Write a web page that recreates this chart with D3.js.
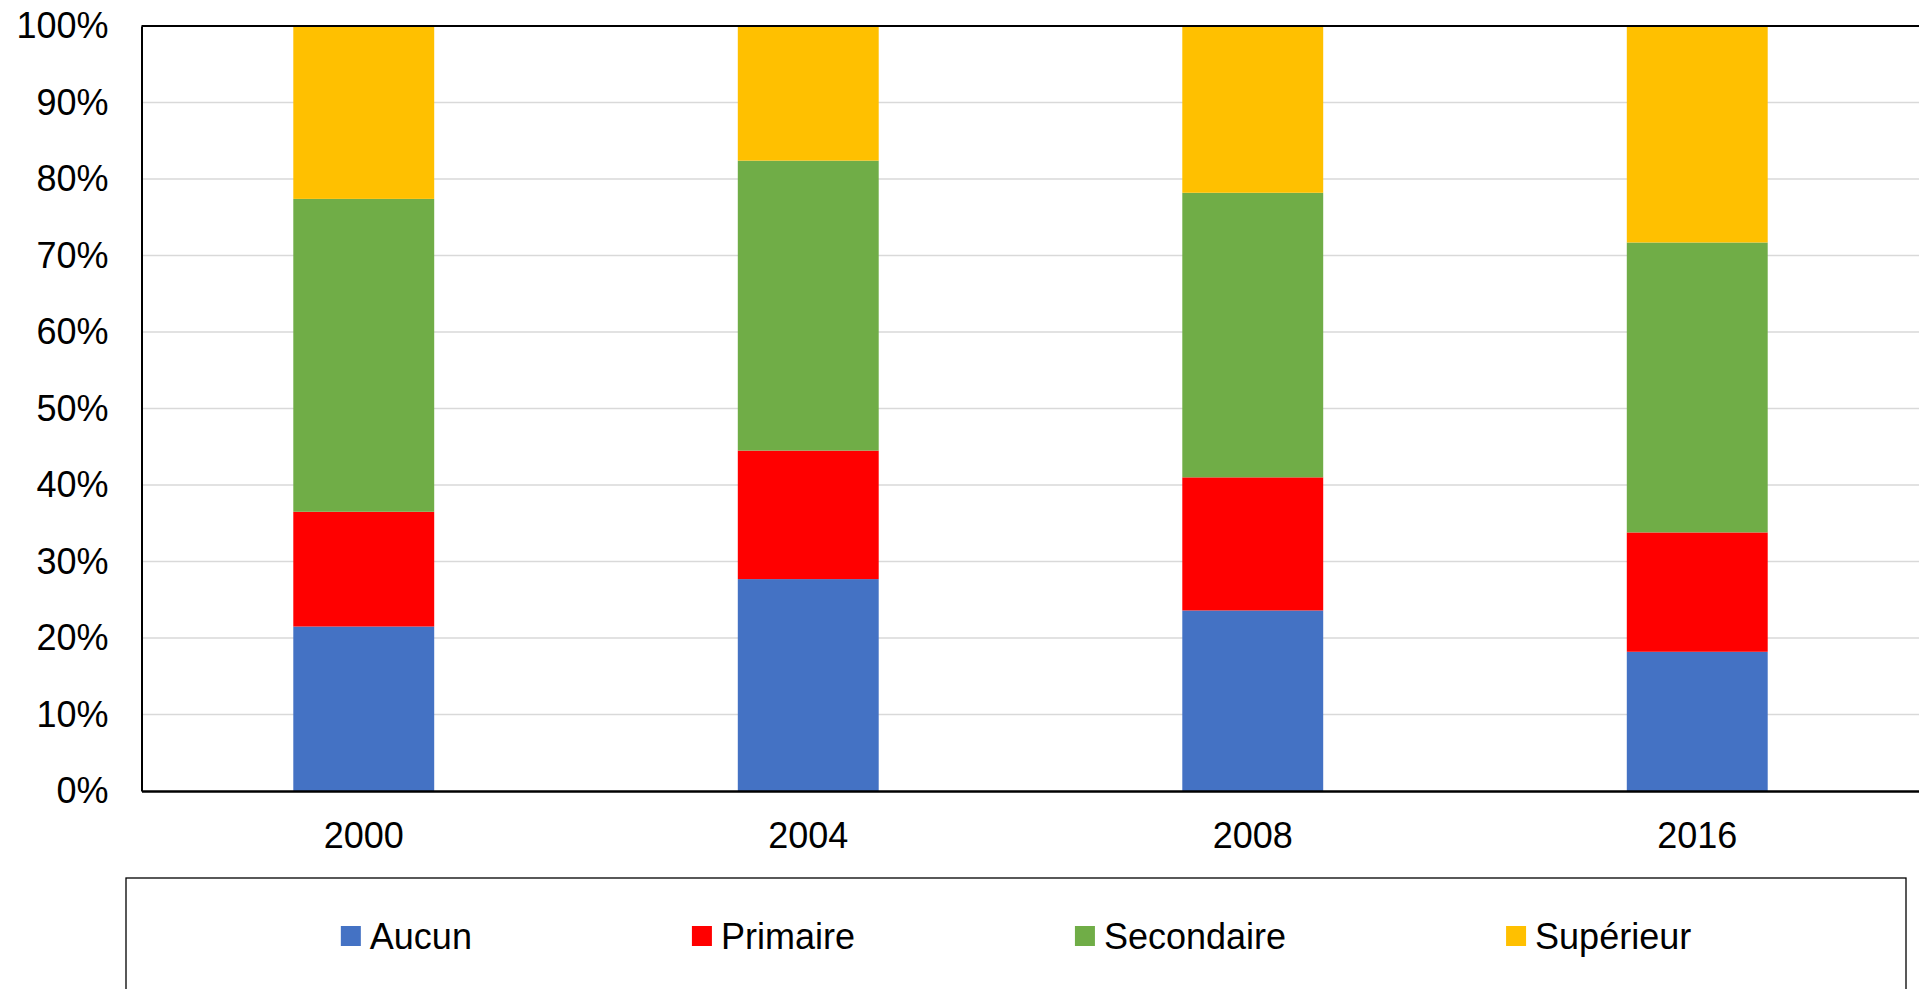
<!DOCTYPE html>
<html>
<head>
<meta charset="utf-8">
<script src="https://cdn.jsdelivr.net/npm/d3@7"></script>
<style>
  html, body { margin: 0; padding: 0; background: #fff; overflow: hidden; }
  svg { display: block; font-family: "Liberation Sans", Arial, sans-serif; }
</style>
</head>
<body>
<svg id="chart" width="1919" height="989"></svg>
<script>
const years = ["2000", "2004", "2008", "2016"];
const seriesNames = ["Aucun", "Primaire", "Secondaire", "Supérieur"];
const aucun      = [21.5, 27.7, 23.6, 18.2];
const primaire   = [15.0, 16.8, 17.4, 15.6];
const secondaire = [40.9, 37.9, 37.2, 37.9];
const superieur  = [22.6, 17.6, 21.8, 28.3];
const colors = ["#4472C4", "#FF0000", "#70AD47", "#FFC000"];
const yTicks = [0, 0.1, 0.2, 0.3, 0.4, 0.5, 0.6, 0.7, 0.8, 0.9, 1.0];

const seriesValues = [aucun, primaire, secondaire, superieur];
const rows = years.map((y, i) => {
  const r = { year: y };
  seriesNames.forEach((s, k) => r[s] = seriesValues[k][i]);
  return r;
});
// normalize to 100%
rows.forEach(r => {
  const tot = d3.sum(seriesNames, s => r[s]);
  seriesNames.forEach(s => r[s] = r[s] / tot);
});

const svg = d3.select("#chart");
const m = { left: 141.5, right: 1919.5, top: 26, bottom: 791 };

const x = d3.scaleBand().domain(years).range([m.left, m.right])
  .paddingInner(0.683).paddingOuter(0.3415);
const y = d3.scaleLinear().domain([0, 1]).range([m.bottom, m.top]);
const color = d3.scaleOrdinal().domain(seriesNames).range(colors);

// gridlines
svg.append("g").selectAll("line").data(yTicks.filter(t => t > 0 && t < 1)).join("line")
  .attr("x1", m.left).attr("x2", m.right)
  .attr("y1", d => y(d)).attr("y2", d => y(d))
  .attr("stroke", "#d9d9d9").attr("stroke-width", 1.3);

// stacked bars
const stacked = d3.stack().keys(seriesNames)(rows);
svg.append("g").selectAll("g").data(stacked).join("g")
  .attr("fill", d => color(d.key))
  .selectAll("rect").data(d => d).join("rect")
  .attr("x", d => x(d.data.year))
  .attr("width", x.bandwidth())
  .attr("y", d => y(d[1]))
  .attr("height", d => y(d[0]) - y(d[1]));

// top border line
svg.append("line")
  .attr("x1", m.left).attr("x2", m.right)
  .attr("y1", y(1)).attr("y2", y(1))
  .attr("stroke", "#000").attr("stroke-width", 2);

// y axis
const yAxis = svg.append("g").attr("transform", `translate(${m.left},0)`)
  .call(d3.axisLeft(y).tickValues(yTicks).tickFormat(d3.format(".0%")).tickSize(0).tickPadding(33));
yAxis.select(".domain").attr("stroke", "#000").attr("stroke-width", 2);
yAxis.selectAll("text").attr("font-size", 36).attr("fill", "#000")
  .attr("font-family", "Liberation Sans, Arial, sans-serif");

// x axis
const xAxis = svg.append("g").attr("transform", `translate(0,${m.bottom})`)
  .call(d3.axisBottom(x).tickSize(0).tickPadding(31));
xAxis.select(".domain").attr("stroke", "#000").attr("stroke-width", 2.5);
xAxis.selectAll("text").attr("font-size", 36).attr("fill", "#000")
  .attr("font-family", "Liberation Sans, Arial, sans-serif");

// legend box
const lgTop = 878, lgLeft = 126, lgRight = 1906, lgBottom = 992;
svg.append("rect")
  .attr("x", lgLeft).attr("y", lgTop)
  .attr("width", lgRight - lgLeft).attr("height", lgBottom - lgTop)
  .attr("fill", "none").attr("stroke", "#000").attr("stroke-width", 1.3);

const lg = svg.append("g");
const items = lg.selectAll("g").data(seriesNames).join("g");
items.append("rect").attr("width", 20).attr("height", 20).attr("y", -10)
  .attr("fill", d => color(d));
items.append("text").attr("x", 29).attr("dy", "0.35em")
  .attr("font-size", 36).attr("fill", "#000").text(d => d);
// layout
let cursor = 0;
const gap = 220;
const offsets = [];
items.each(function () {
  const w = 29 + d3.select(this).select("text").node().getComputedTextLength();
  offsets.push(cursor);
  cursor += w + gap;
});
const total = cursor - gap;
const startX = (lgLeft + lgRight) / 2 - total / 2;
const cy = 936;
items.attr("transform", (d, i) => `translate(${startX + offsets[i]},${cy})`);
</script>
</body>
</html>
